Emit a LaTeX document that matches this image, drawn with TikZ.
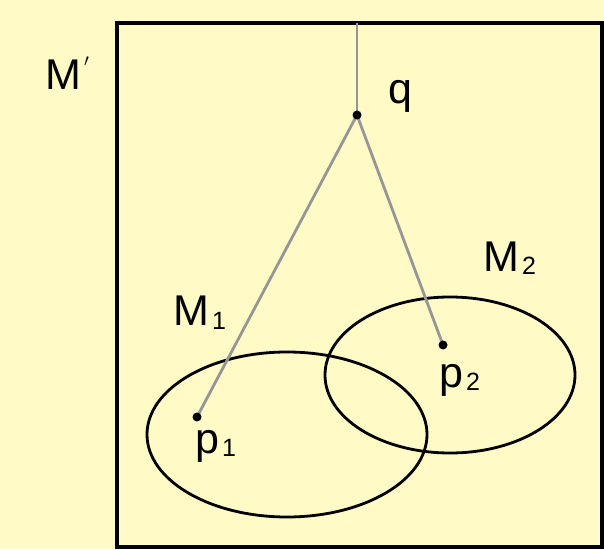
\documentclass[tikz,border=0pt]{standalone}
\usepackage{fontspec}
\setmainfont{Liberation Sans}
\definecolor{bgyellow}{RGB}{255,250,198}
\definecolor{stemgrey}{RGB}{150,150,150}
\newcommand\mysub[1]{\hspace{3pt}{\fontsize{25}{25}\selectfont\raisebox{-3pt}{#1}}}
\tikzset{
  lbl/.style={anchor=base west, inner sep=0pt, font=\fontsize{43}{43}\selectfont, text=black},
  dotpt/.style={circle, fill=black, inner sep=0pt, minimum size=9pt},
  stem/.style={draw=stemgrey, line width=2.8pt},
  setline/.style={draw=black, line width=2.8pt},
}
\begin{document}
\begin{tikzpicture}[x=1pt,y=1pt]
\fill[bgyellow] (0,0) rectangle (604,549);
\useasboundingbox (0,0) rectangle (604,549);
% frame M'
\draw[black, line width=3.5pt] (117,526) rectangle (602,2);
\coordinate (top) at (357,526);
% sets
\draw[setline] (287,114.5) ellipse [x radius=140, y radius=82.5];
\draw[setline] (450,174) ellipse [x radius=125, y radius=78];
% points
\coordinate (q) at (357,434);
\coordinate (p1) at (197,132);
\coordinate (p2) at (443,204);
% connectors
\draw[stem] (top) -- (q);
\draw[stem] (q) -- (p1);
\draw[stem] (q) -- (p2);
\node[dotpt] (dq) at (q) {};
\node[dotpt] (dp1) at (p1) {};
\node[dotpt] (dp2) at (p2) {};
% labels
\node[lbl] (lMp) at (45,459) {M\hspace{3pt}\raisebox{14pt}{\fontsize{24}{24}\selectfont$'$}};
\node[lbl] (lq) at (388,445) {q};
\node[lbl] (lM1) at (173,223) {M\mysub{1}};
\node[lbl] (lM2) at (483,277) {M\mysub{2}};
\node[lbl] (lp1) at (195,96) {p\mysub{1}};
\node[lbl] (lp2) at (439,162) {p\mysub{2}};
\end{tikzpicture}
\end{document}
